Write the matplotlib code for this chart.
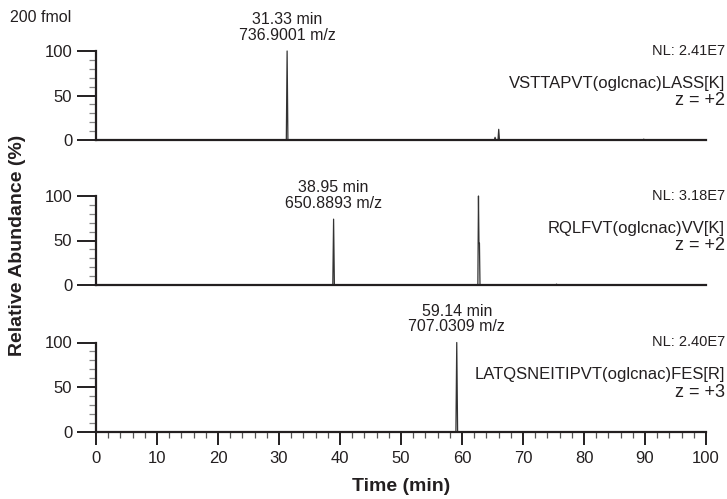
import matplotlib
matplotlib.use('Agg')
import matplotlib.pyplot as plt
from matplotlib.ticker import MultipleLocator

plt.rcParams['font.family'] = ['Liberation Sans Narrow', 'Liberation Sans', 'DejaVu Sans']

# chromatogram traces (time in min, relative abundance in %)
t1 = [0, 31.20, 31.33, 31.46, 65.30, 65.42, 65.55, 65.90, 66.02, 66.14, 89.70, 89.80, 89.90, 100]
i1 = [0, 0, 100, 0, 0, 3, 0, 0, 12, 0, 0, 1, 0, 0]
t2 = [0, 38.82, 38.95, 39.08, 62.60, 62.70, 62.78, 62.86, 62.95, 75.40, 75.50, 75.60, 100]
i2 = [0, 0, 74, 0, 0, 100, 47, 47, 0, 0, 1, 0, 0]
t3 = [0, 59.00, 59.14, 59.28, 100]
i3 = [0, 0, 100, 0, 0]

peak_times = [31.33, 38.95, 59.14]
peak_heights = [100, 74, 100]
peak_mz = ['736.9001', '650.8893', '707.0309']
nl_values = ['2.41E7', '3.18E7', '2.40E7']
peptides = ['VSTTAPVT(oglcnac)LASS[K]', 'RQLFVT(oglcnac)VV[K]', 'LATQSNEITIPVT(oglcnac)FES[R]']
charges = ['+2', '+2', '+3']

W, H = 727, 499
fig = plt.figure(figsize=(W / 100, H / 100), dpi=100)

# panel pixel extents: (top of 100, bottom at 0)
panel_px = [(51, 140), (196, 285), (342.5, 432)]
left, right = 96, 706
dark = '#231f20'
traces = [(t1, i1), (t2, i2), (t3, i3)]
txt_x = (725 - left) / (right - left)

for k, ((top, bot), (t, inten)) in enumerate(zip(panel_px, traces)):
    ax = fig.add_axes([left / W, 1 - bot / H, (right - left) / W, (bot - top) / H])
    ax.plot(t, inten, color='#333333', lw=0.9, clip_on=False)
    ax.set_xlim(0, 100)
    ax.set_ylim(0, 100)
    for s in ['top', 'right']:
        ax.spines[s].set_visible(False)
    for s in ['left', 'bottom']:
        ax.spines[s].set_color(dark)
        ax.spines[s].set_linewidth(1.6)
    ax.yaxis.set_major_locator(MultipleLocator(50))
    ax.yaxis.set_minor_locator(MultipleLocator(10))
    ax.tick_params(axis='y', which='major', length=14, width=1.4, color=dark,
                   labelsize=12, pad=3, labelcolor=dark)
    ax.tick_params(axis='y', which='minor', length=5, width=0.9, color='#888888')
    if k < 2:
        ax.tick_params(axis='x', which='both', bottom=False, labelbottom=False)
    else:
        ax.xaxis.set_major_locator(MultipleLocator(10))
        ax.xaxis.set_minor_locator(MultipleLocator(2))
        ax.tick_params(axis='x', which='major', length=9, width=1.4, color=dark,
                       labelsize=12, pad=5, labelcolor=dark)
        ax.tick_params(axis='x', which='minor', length=4, width=0.9, color='#555555')
        ax.set_xlabel('Time (min)', fontsize=14, fontweight='bold', color=dark, labelpad=8)

    # peak annotation
    ax.annotate(f'{peak_times[k]:.2f} min\n{peak_mz[k]} m/z',
                xy=(peak_times[k], peak_heights[k]), xytext=(0, 6),
                textcoords='offset points', ha='center', va='bottom',
                fontsize=11.5, color=dark, linespacing=1.05, annotation_clip=False)
    ax.text(txt_x, 1.0, f'NL: {nl_values[k]}', transform=ax.transAxes,
            ha='right', va='center', fontsize=10.5, color=dark)
    ax.text(txt_x, 0.64, peptides[k], transform=ax.transAxes,
            ha='right', va='center', fontsize=12, color=dark)
    ax.text(txt_x, 0.44, f'z = {charges[k]}', transform=ax.transAxes,
            ha='right', va='center', fontsize=13, color=dark)

fig.text(10 / W, 1 - 18 / H, '200 fmol', ha='left', va='center', fontsize=11.5, color=dark)
fig.text(18 / W, 1 - 245 / H, 'Relative Abundance (%)', rotation=90, ha='center',
         va='center', fontsize=14, fontweight='bold', color=dark)

fig.savefig('out.png', dpi=100)
